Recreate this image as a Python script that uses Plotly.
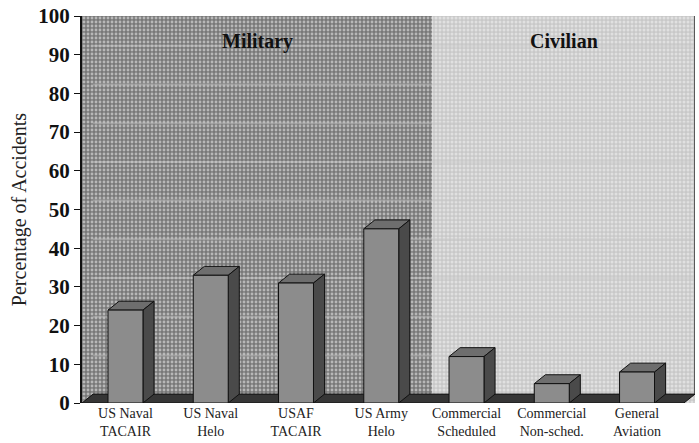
import plotly.graph_objects as go

# Share of accidents by aviation community (percent)
categories = ["US Naval<br>TACAIR", "US Naval<br>Helo", "USAF<br>TACAIR", "US Army<br>Helo",
              "Commercial<br>Scheduled", "Commercial<br>Non-sched.", "General<br>Aviation"]
values = [24, 33, 31, 45, 12, 5, 8]
groups = ["Military", "Civilian"]
group_sizes = [4, 3]
y_ticks = [0, 10, 20, 30, 40, 50, 60, 70, 80, 90, 100]

# 3-D look: depth offset of the bars and floor, in data units
DX, DY = 0.13, 2.3
BAR_W = 0.41
X_LEFT, X_RIGHT = -0.51, 6.68
SERIF = "Liberation Serif, Times New Roman, serif"

fig = go.Figure()

# back wall, split into the two group panels
split = group_sizes[0] - 0.5 + DX * 0.75
panels = [
    (X_LEFT, split, dict(shape=".", bgcolor="#787878", fgcolor="#f8f8f8", size=4, solidity=0.4)),
    (split, X_RIGHT, dict(shape=".", bgcolor="#c8c8c8", fgcolor="#f8f8f8", size=4, solidity=0.45)),
]
for x0, x1, pat in panels:
    fig.add_trace(go.Scatter(
        x=[x0, x1, x1, x0, x0], y=[0, 0, 100, 100, 0],
        mode="lines", fill="toself", line=dict(width=0),
        fillcolor="rgba(0,0,0,0)", fillpattern=pat,
        hoverinfo="skip", showlegend=False))

# faint wall gridlines
for t in y_ticks[1:-1]:
    fig.add_trace(go.Scatter(
        x=[X_LEFT + DX, X_RIGHT], y=[t + DY, t + DY], mode="lines",
        line=dict(color="rgba(200,200,200,0.45)", width=2),
        hoverinfo="skip", showlegend=False))

# floor slab
fig.add_trace(go.Scatter(
    x=[X_LEFT, X_RIGHT - DX, X_RIGHT, X_LEFT + DX, X_LEFT],
    y=[0, 0, DY, DY, 0],
    mode="lines", fill="toself", fillcolor="#363636",
    line=dict(color="#111111", width=1), hoverinfo="skip", showlegend=False))

# top and side faces of each bar
for i, v in enumerate(values):
    xl, xr = i - BAR_W / 2, i + BAR_W / 2
    fig.add_trace(go.Scatter(
        x=[xl, xr, xr + DX, xl + DX, xl], y=[v, v, v + DY, v + DY, v],
        mode="lines", fill="toself", fillcolor="#6e6e6e",
        line=dict(color="#111111", width=1), hoverinfo="skip", showlegend=False))
    fig.add_trace(go.Scatter(
        x=[xr, xr + DX, xr + DX, xr, xr], y=[0, DY, v + DY, v, 0],
        mode="lines", fill="toself", fillcolor="#4a4a4a",
        line=dict(color="#111111", width=1), hoverinfo="skip", showlegend=False))

# front faces, on an overlaid axis pair so they sit above the wall and floor
fig.add_trace(go.Bar(
    x=list(range(len(values))), y=values, width=BAR_W,
    xaxis="x2", yaxis="y2",
    marker=dict(color="#8c8c8c", line=dict(color="#111111", width=1)),
    hoverinfo="skip", showlegend=False))

# right edge of the wall
fig.add_shape(type="line", x0=X_RIGHT, x1=X_RIGHT, y0=DY, y1=100,
              line=dict(color="#333333", width=1.5))

# group headings centred on their panels
bounds = [(X_LEFT, split), (split, X_RIGHT)]
for name, (a, b) in zip(groups, bounds):
    fig.add_annotation(x=(a + b) / 2, y=93.5, text=f"<b>{name}</b>", showarrow=False,
                       font=dict(family=SERIF, size=20, color="#111111"))

fig.update_layout(
    width=699, height=443,
    margin=dict(l=82, r=4, t=15, b=39),
    paper_bgcolor="white", plot_bgcolor="white",
    barmode="overlay",
    xaxis=dict(
        range=[X_LEFT, X_RIGHT], tickmode="array",
        tickvals=list(range(len(categories))), ticktext=categories,
        showgrid=False, zeroline=False, showline=False, ticks="",
        tickfont=dict(family=SERIF, size=14, color="#222222"),
    ),
    yaxis=dict(
        range=[0, 100], tickvals=y_ticks, ticktext=[f"<b>{t}</b>" for t in y_ticks],
        showgrid=False, zeroline=False, showline=True, linecolor="#111111", linewidth=2,
        ticks="outside", ticklen=6, tickcolor="#111111", tickwidth=1,
        tickfont=dict(family=SERIF, size=21, color="#111111"),
        title=dict(text="Percentage of Accidents", standoff=6,
                   font=dict(family=SERIF, size=20, color="#222222")),
    ),
    xaxis2=dict(overlaying="x", range=[X_LEFT, X_RIGHT], visible=False),
    yaxis2=dict(overlaying="y", range=[0, 100], visible=False),
)

fig.write_html("out.html")
